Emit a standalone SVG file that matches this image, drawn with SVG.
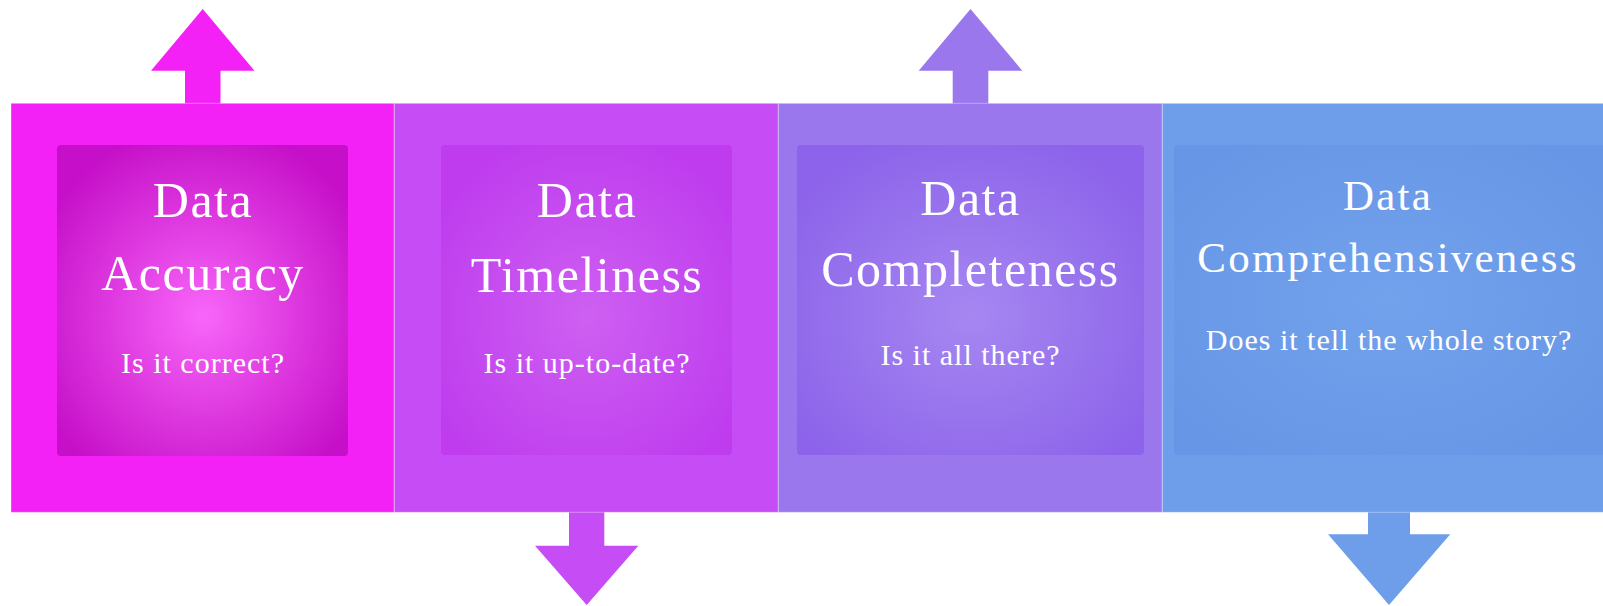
<svg xmlns="http://www.w3.org/2000/svg" width="1603" height="606" viewBox="0 0 1603 606">
<defs>
<style>
.t{font-family:"Liberation Serif","Times New Roman",serif;fill:#ffffff;text-anchor:middle}
.h{font-size:50px;letter-spacing:1.5px}
.h4{font-size:43px;letter-spacing:2.2px}
.s{font-size:30px;letter-spacing:1px}
.outer{stroke:#ffffff;stroke-opacity:0.35;stroke-width:1}
</style>
<radialGradient id="g1" cx="0.5" cy="0.55" r="0.62">
<stop offset="0" stop-color="#F866F9"/>
<stop offset="1" stop-color="#C50FC8"/>
</radialGradient>
<radialGradient id="g2" cx="0.5" cy="0.55" r="0.62">
<stop offset="0" stop-color="#CE60F2"/>
<stop offset="1" stop-color="#BE3BEE"/>
</radialGradient>
<radialGradient id="g3" cx="0.5" cy="0.55" r="0.62">
<stop offset="0" stop-color="#A687F1"/>
<stop offset="1" stop-color="#8C63EA"/>
</radialGradient>
<radialGradient id="g4" cx="0.5" cy="0.5" r="0.62">
<stop offset="0" stop-color="#72A2EC"/>
<stop offset="1" stop-color="#6796E6"/>
</radialGradient>
</defs>
<rect width="1603" height="606" fill="#ffffff"/>
<g id="connectors">
<polygon fill="#F421F7" points="185,104 185,70.7 151,70.7 202.7,9 254.5,70.7 220.5,70.7 220.5,104"/>
<polygon fill="#C64CF5" points="569,511 569,545.7 535,545.7 586.7,605 638.3,545.7 604.3,545.7 604.3,511"/>
<polygon fill="#9B77EE" points="952.7,104 952.7,70.7 918.7,70.7 970.5,9 1022.3,70.7 988.3,70.7 988.3,104"/>
<polygon fill="#6E9EEA" points="1368,511 1368,534.3 1328,534.3 1389,605 1450.3,534.3 1410,534.3 1410,511"/>
</g>
<g id="node1">
<rect class="outer" x="11" y="103.3" width="383.3" height="409" fill="#F421F7"/>
<rect x="57" y="145" width="291" height="311" rx="4" fill="url(#g1)"/>
<text class="t h" x="203" y="217">Data</text>
<text class="t h" x="203" y="290">Accuracy</text>
<text class="t s" x="203" y="372.5">Is it correct?</text>
</g>
<g id="node2">
<rect class="outer" x="394.3" y="103.3" width="384" height="409" fill="#C64CF5"/>
<rect x="441" y="145" width="291" height="310" rx="4" fill="url(#g2)"/>
<text class="t h" x="587" y="216.7">Data</text>
<text class="t h" x="587" y="291.5">Timeliness</text>
<text class="t s" x="587" y="373">Is it up-to-date?</text>
</g>
<g id="node3">
<rect class="outer" x="778.3" y="103.3" width="384" height="409" fill="#9B77EE"/>
<rect x="797" y="145" width="347" height="310" rx="4" fill="url(#g3)"/>
<text class="t h" x="970.5" y="215">Data</text>
<text class="t h" x="970.5" y="286">Completeness</text>
<text class="t s" x="970.5" y="365">Is it all there?</text>
</g>
<g id="node4">
<rect class="outer" x="1162.3" y="103.3" width="445" height="409" fill="#6E9EEA"/>
<rect x="1174" y="145" width="432" height="310" rx="4" fill="url(#g4)"/>
<text class="t h4" x="1388" y="210">Data</text>
<text class="t h4" x="1388" y="271.5">Comprehensiveness</text>
<text class="t s" x="1389" y="350">Does it tell the whole story?</text>
</g>
</svg>
